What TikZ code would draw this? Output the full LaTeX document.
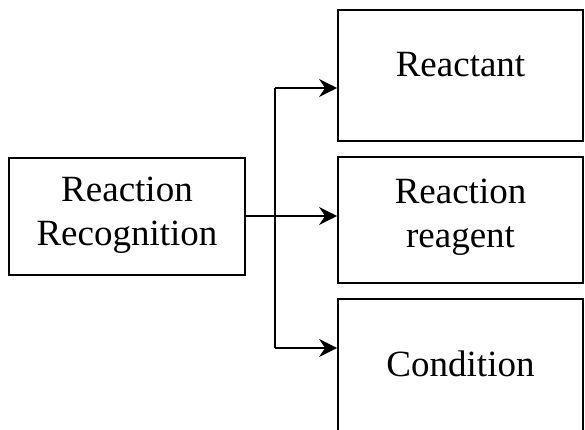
\documentclass[tikz,border=0pt]{standalone}
\usepackage{fontspec}
\setmainfont{Liberation Serif}
\usetikzlibrary{positioning,arrows.meta}

\begin{document}
\begin{tikzpicture}[x=1pt, y=-1pt,
	box/.style={draw, line width=1.8pt, inner sep=0pt, align=center, font=\fontsize{37}{44}\selectfont},
	outbox/.style={box, minimum width=245pt},
	arr/.style={line width=1.8pt, -{Stealth[length=18pt, width=18pt, inset=6pt]}}]
	\clip (0,0) rectangle (585,430);

	\node (rec) [box, minimum width=236pt, minimum height=117pt, text height=69pt, text depth=11pt] at (127,216.5) {Reaction\\Recognition};

	\node (reactant) [outbox, minimum height=131pt, text height=25pt, text depth=22pt] at (460.5,75.5) {Reactant};
	\node (reagent) [outbox, minimum height=126pt, text height=69pt, text depth=13pt, below=14pt of reactant] {Reaction\\reagent};
	\node (condition) [outbox, minimum height=153pt, text height=25pt, text depth=22pt, below=14pt of reagent] {Condition};

	% fork from the recognition box
	\coordinate (forktop) at (275,88);
	\coordinate (forkbot) at (275,348);
	\draw [line width=1.8pt] (forktop) -- (forkbot);
	\draw [arr] ([yshift=0.5pt]rec.east) -- ([yshift=0.5pt]rec.east -| reagent.west);
	\draw [arr] (forktop) -- (forktop -| reactant.west);
	\draw [arr] (forkbot) -- (forkbot -| condition.west);
\end{tikzpicture}
\end{document}
